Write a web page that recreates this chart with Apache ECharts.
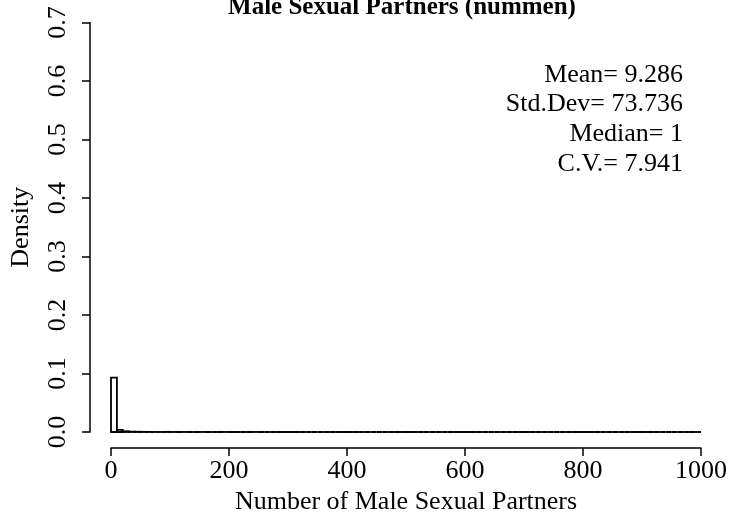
<!DOCTYPE html>
<html>
<head>
<meta charset="utf-8">
<script src="https://cdn.jsdelivr.net/npm/echarts@6/dist/echarts.min.js"></script>
<style>
html,body{margin:0;padding:0;background:#fff;}
#chart{width:731px;height:522px;}
</style>
</head>
<body>
<div id="chart"></div>
<script>
const chartTitle = 'Male Sexual Partners (nummen)';
const xAxisTitle = 'Number of Male Sexual Partners';
const yAxisTitle = 'Density';
const statLines = ['Mean= 9.286', 'Std.Dev= 73.736', 'Median= 1', 'C.V.= 7.941'];
const binWidth = 10;
const xTicks = [0, 200, 400, 600, 800, 1000];
const yTicks = [0.0, 0.1, 0.2, 0.3, 0.4, 0.5, 0.6, 0.7];
// density per bin of width 10, from 0 to 1000
const densities = [
  0.0930, 0.0035, 0.0012, 0.0006, 0.0004, 0.0003, 0.0002, 0.0001, 0.0001, 0.0003,
  0.0001, 0.0000, 0.0001, 0.0000, 0.0000, 0.0001, 0.0000, 0.0000, 0.0000, 0.0001,
  0.0000, 0.0000, 0.0000, 0.0000, 0.0001, 0.0000, 0.0000, 0.0000, 0.0000, 0.0000,
  0.0000, 0.0000, 0.0000, 0.0000, 0.0000, 0.0000, 0.0000, 0.0000, 0.0000, 0.0000,
  0.0000, 0.0000, 0.0000, 0.0000, 0.0000, 0.0000, 0.0000, 0.0000, 0.0000, 0.0000,
  0.0000, 0.0000, 0.0000, 0.0000, 0.0000, 0.0000, 0.0000, 0.0000, 0.0000, 0.0000,
  0.0000, 0.0000, 0.0000, 0.0000, 0.0000, 0.0000, 0.0000, 0.0000, 0.0000, 0.0000,
  0.0000, 0.0000, 0.0000, 0.0000, 0.0000, 0.0000, 0.0000, 0.0000, 0.0000, 0.0000,
  0.0000, 0.0000, 0.0000, 0.0000, 0.0000, 0.0000, 0.0000, 0.0000, 0.0000, 0.0000,
  0.0000, 0.0000, 0.0000, 0.0000, 0.0000, 0.0000, 0.0000, 0.0000, 0.0000, 0.0000
];

const histData = densities.map((d, i) => [i * binWidth, (i + 1) * binWidth, d]);
const FONT = '"Liberation Serif", "DejaVu Serif", serif';
const FS = 26;
const axisLineStyle = {color: '#000', width: 1.5};

const chart = echarts.init(document.getElementById('chart'), null, {renderer: 'canvas'});
chart.setOption({
  animation: false,
  backgroundColor: '#fff',
  grid: [
    {left: 111, right: 30, top: 22.5, bottom: 90, containLabel: false},
    {left: 111, right: 30, top: 22.5, bottom: 74, containLabel: false},
    {left: 87, right: 30, top: 22.5, bottom: 90, containLabel: false}
  ],
  xAxis: [
    {gridIndex: 0, type: 'value', min: 0, max: 1000, show: false},
    {
      gridIndex: 1, type: 'value', min: 0, max: 1000, interval: 200,
      axisLine: {show: true, lineStyle: axisLineStyle},
      axisTick: {show: true, length: 8, lineStyle: axisLineStyle},
      axisLabel: {fontFamily: FONT, fontSize: FS, color: '#000', margin: 10,
        formatter: v => xTicks.includes(v) ? String(v) : ''},
      splitLine: {show: false},
      name: xAxisTitle, nameLocation: 'middle', nameGap: 39,
      nameTextStyle: {fontFamily: FONT, fontSize: FS, color: '#000'}
    },
    {gridIndex: 2, type: 'value', min: 0, max: 1000, show: false}
  ],
  yAxis: [
    {gridIndex: 0, type: 'value', min: 0, max: 0.7, show: false},
    {gridIndex: 1, type: 'value', min: 0, max: 0.7, show: false},
    {
      gridIndex: 2, type: 'value', min: 0, max: 0.7, interval: 0.1,
      axisLine: {show: true, lineStyle: axisLineStyle},
      axisTick: {show: true, length: 8, lineStyle: axisLineStyle},
      axisLabel: {fontFamily: FONT, fontSize: FS, color: '#000', rotate: 90, margin: 19,
        formatter: v => {
          const t = yTicks.find(y => Math.abs(y - v) < 1e-9);
          return t === undefined ? '' : t.toFixed(1);
        }},
      splitLine: {show: false},
      name: yAxisTitle, nameLocation: 'middle', nameGap: 56,
      nameTextStyle: {fontFamily: FONT, fontSize: FS, color: '#000'}
    }
  ],
  series: [{
    type: 'custom',
    xAxisIndex: 0, yAxisIndex: 0,
    clip: false,
    data: histData,
    encode: {x: [0, 1], y: 2},
    renderItem: function (params, api) {
      const p0 = api.coord([api.value(0), api.value(2)]);
      const p1 = api.coord([api.value(1), 0]);
      return {
        type: 'rect',
        shape: {x: p0[0], y: p0[1], width: p1[0] - p0[0], height: p1[1] - p0[1]},
        style: {fill: '#fff', stroke: '#000', lineWidth: 1.8}
      };
    }
  }],
  graphic: [{
    type: 'text', x: 402, y: 20,
    style: {text: chartTitle, fontFamily: FONT, fontWeight: 'bold', fontSize: 25, fill: '#000',
      textAlign: 'center', textVerticalAlign: 'bottom'}
  }].concat(statLines.map((s, i) => ({
    type: 'text',
    x: 683,
    y: 75 + i * 29.6,
    style: {text: s, fontFamily: FONT, fontSize: FS, fill: '#000', textAlign: 'right', textVerticalAlign: 'middle'}
  })))
});
</script>
</body>
</html>
